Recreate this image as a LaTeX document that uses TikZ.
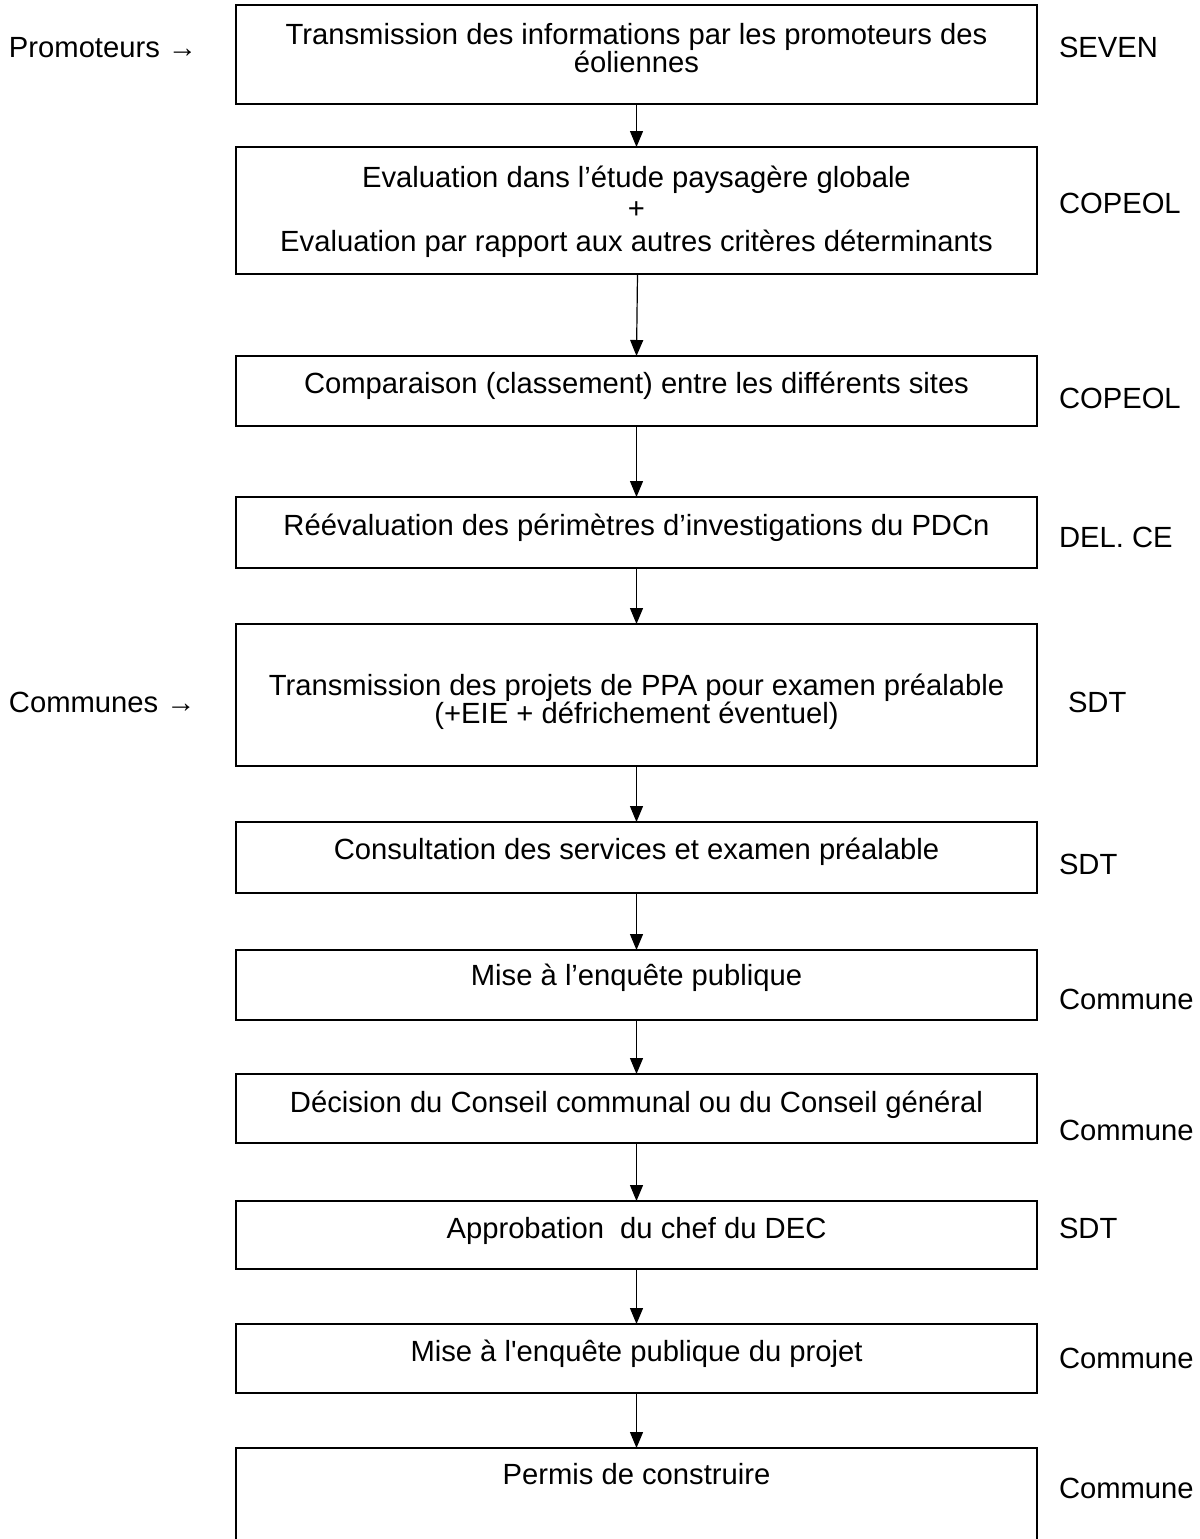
\documentclass[tikz,border=0pt]{standalone}
\usepackage{fontspec}
\setmainfont{Liberation Sans}
\usetikzlibrary{arrows.meta}
\begin{document}
\begin{tikzpicture}[x=0.5pt,y=-0.5pt,
  every node/.style={inner sep=0pt, outer sep=0pt, font=\fontsize{14.6pt}{16pt}\selectfont},
  box/.style={draw, line width=0.6pt, minimum width=400.5pt},
  txt/.style={anchor=base},
  lab/.style={anchor=base west},
  arr/.style={line width=0.6pt, -{Triangle[length=8pt,width=6.5pt]}}]
\useasboundingbox (0,0) rectangle (1200,1539);
\clip (0,0) rectangle (1200,1539);
% boxes
\node[box, minimum height=49.5pt] (b1) at (636.5,54.5) {};
\node[box, minimum height=63.5pt] (b2) at (636.5,210.5) {};
\node[box, minimum height=35pt] (b3) at (636.5,391) {};
\node[box, minimum height=35.5pt] (b4) at (636.5,532.5) {};
\node[box, minimum height=71pt] (b5) at (636.5,695) {};
\node[box, minimum height=35.5pt] (b6) at (636.5,857.5) {};
\node[box, minimum height=35pt] (b7) at (636.5,985) {};
\node[box, minimum height=34.5pt] (b8) at (636.5,1108.5) {};
\node[box, minimum height=34pt] (b9) at (636.5,1235) {};
\node[box, minimum height=34.5pt] (b10) at (636.5,1358.5) {};
\node[box, minimum height=76pt] (b11) at (636.5,1524) {};
% box texts
\node[txt] (t1a) at (636.5,44) {Transmission des informations par les promoteurs des};
\node[txt] (t1b) at (636.5,72) {éoliennes};
\node[txt] (t2a) at (636.5,187) {Evaluation dans l’étude paysagère globale};
\node[txt] (t2b) at (636.5,218) {+};
\node[txt] (t2c) at (636.5,251) {Evaluation par rapport aux autres critères déterminants};
\node[txt] (t3) at (636.5,393) {Comparaison (classement) entre les différents sites};
\node[txt] (t4) at (636.5,535) {Réévaluation des périmètres d’investigations du PDCn};
\node[txt] (t5a) at (636.5,695) {Transmission des projets de PPA pour examen préalable};
\node[txt] (t5b) at (636.5,723) {(+EIE + défrichement éventuel)};
\node[txt] (t6) at (636.5,859) {Consultation des services et examen préalable};
\node[txt] (t7) at (636.5,985) {Mise à l’enquête publique};
\node[txt] (t8) at (636.5,1112) {Décision du Conseil communal ou du Conseil général};
\node[txt] (t9) at (636.5,1238) {Approbation\ \ du chef du DEC};
\node[txt] (t10) at (636.5,1361) {Mise à l\textquotesingle enquête publique du projet};
\node[txt] (t11) at (636.5,1484) {Permis de construire};
% right labels
\node[lab] (r1) at (1059,57) {SEVEN};
\node[lab] (r2) at (1059,213) {COPEOL};
\node[lab] (r3) at (1059,408) {COPEOL};
\node[lab] (r4) at (1059,547) {DEL. CE};
\node[lab] (r5) at (1068,712) {SDT};
\node[lab] (r6) at (1059,874) {SDT};
\node[lab] (r7) at (1059,1009) {Commune};
\node[lab] (r8) at (1059,1140) {Commune};
\node[lab] (r9) at (1059,1238) {SDT};
\node[lab] (r10) at (1059,1368) {Commune};
\node[lab] (r11) at (1059,1498) {Commune};
% left labels
\node[lab] (l1) at (9,57) {Promoteurs →};
\node[lab] (l2) at (9,712) {Communes →};
% connectors
\draw[arr] (b1.south) -- (b2.north);
\draw[arr] ([xshift=0.5pt]b2.south) -- (b3.north);
\draw[arr] (b3.south) -- (b4.north);
\draw[arr] (b4.south) -- (b5.north);
\draw[arr] (b5.south) -- (b6.north);
\draw[arr] (b6.south) -- (b7.north);
\draw[arr] (b7.south) -- (b8.north);
\draw[arr] (b8.south) -- (b9.north);
\draw[arr] (b9.south) -- (b10.north);
\draw[arr] (b10.south) -- (b11.north);
\end{tikzpicture}
\end{document}
